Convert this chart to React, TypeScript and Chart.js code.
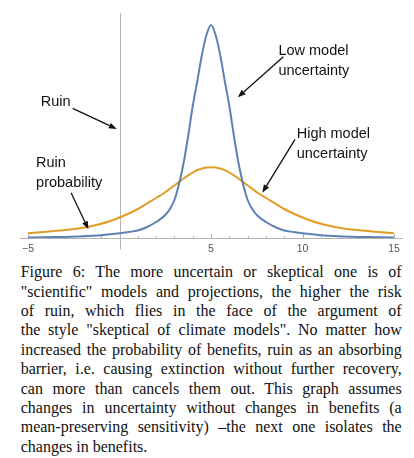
import React, { useRef, useEffect } from 'react';
import { Chart, registerables } from 'chart.js';

Chart.register(...registerables);

// x grid and the two densities
const xValues = [
  -5, -4, -3, -2, -1, 0, 0.5, 1, 1.5, 2, 2.5, 2.75, 3, 3.25, 3.5, 3.75, 4, 4.25, 4.5, 4.75,
  5,
  5.25, 5.5, 5.75, 6, 6.25, 6.5, 6.75, 7, 7.25, 7.5, 8, 8.5, 9, 9.5, 10, 11, 12, 13, 14, 15,
];
const lowUncertainty = [
  0.001, 0.0016, 0.0022, 0.0034, 0.0056, 0.0094, 0.012, 0.015, 0.022, 0.032, 0.046, 0.058, 0.076,
  0.108, 0.15, 0.204, 0.264, 0.314, 0.366, 0.406,
  0.426,
  0.406, 0.366, 0.314, 0.264, 0.204, 0.15, 0.108, 0.076, 0.058, 0.046, 0.032, 0.022, 0.015, 0.012,
  0.0094, 0.0056, 0.0034, 0.0022, 0.0016, 0.001,
];
const highUncertainty = [
  0.0094, 0.0124, 0.016, 0.0206, 0.0284, 0.041, 0.049, 0.058, 0.069, 0.08, 0.0916, 0.0984, 0.105,
  0.1124, 0.119, 0.1254, 0.131, 0.1356, 0.139, 0.141,
  0.1416,
  0.141, 0.139, 0.1356, 0.131, 0.1254, 0.119, 0.1124, 0.105, 0.0984, 0.0916, 0.08, 0.069, 0.058,
  0.049, 0.041, 0.0284, 0.0206, 0.016, 0.0124, 0.0094,
];

const majorTicks = [-5, 5, 10, 15];
const tickLabels = ['\u22125', '5', '10', '15'];
const minorTicks = [-4, -3, -2, -1, 1, 2, 3, 4, 6, 7, 8, 9, 11, 12, 13, 14];
const ruinLevel = 0;

// annotation text (left x, baseline y) and arrows, in data units
const labelLines = [
  { text: 'Low model', x: 8.68, y: 0.366 },
  { text: 'uncertainty', x: 8.68, y: 0.326 },
  { text: 'Ruin', x: -4.31, y: 0.264 },
  { text: 'High model', x: 9.68, y: 0.1994 },
  { text: 'uncertainty', x: 9.68, y: 0.1594 },
  { text: 'Ruin', x: -4.56, y: 0.1426 },
  { text: 'probability', x: -4.56, y: 0.1026 },
];
const arrows = [
  { from: [8.95, 0.3626], to: [6.46, 0.2814] },
  { from: [-2.56, 0.2594], to: [-0.15, 0.218] },
  { from: [9.59, 0.1974], to: [7.8, 0.0906] },
  { from: [-2.65, 0.0906], to: [-1.7, 0.0174] },
];

const captionLines = [
  'Figure 6: The more uncertain or skeptical one is of',
  '"scientific" models and projections, the higher the risk',
  'of ruin, which flies in the face of the argument of',
  'the style "skeptical of climate models". No matter how',
  'increased the probability of benefits, ruin as an absorbing',
  'barrier, i.e. causing extinction without further recovery,',
  'can more than cancels them out. This graph assumes',
  'changes in uncertainty without changes in benefits (a',
  'mean-preserving sensitivity) \u2013the next one isolates the',
  'changes in benefits.',
];

const decorPlugin = {
  id: 'decor',
  beforeDatasetsDraw(chart: any) {
    const { ctx, chartArea, scales } = chart;
    const x = scales.x;
    const y = scales.y;
    const y0 = Math.round(y.getPixelForValue(0)) + 0.5;
    ctx.save();
    ctx.strokeStyle = '#b4b4b4';
    ctx.lineWidth = 1;
    ctx.beginPath();
    ctx.moveTo(chartArea.left, y0);
    ctx.lineTo(chartArea.right, y0);
    majorTicks.forEach((v) => {
      const px = Math.round(x.getPixelForValue(v)) + 0.5;
      ctx.moveTo(px, y0);
      ctx.lineTo(px, y0 - 4.5);
    });
    minorTicks.forEach((v) => {
      const px = Math.round(x.getPixelForValue(v)) + 0.5;
      ctx.moveTo(px, y0);
      ctx.lineTo(px, y0 - 2.5);
    });
    const xr = Math.round(x.getPixelForValue(ruinLevel)) + 0.5;
    ctx.moveTo(xr, chartArea.top);
    ctx.lineTo(xr, y0 + 11);
    ctx.stroke();

    ctx.fillStyle = '#555';
    ctx.font = '10.5px "Liberation Sans", Arial, sans-serif';
    ctx.textAlign = 'center';
    ctx.textBaseline = 'alphabetic';
    majorTicks.forEach((v, i) => {
      ctx.fillText(tickLabels[i], x.getPixelForValue(v), y0 + 13.5);
    });
    ctx.restore();
  },
  afterDatasetsDraw(chart: any) {
    const { ctx, scales } = chart;
    const x = scales.x;
    const y = scales.y;
    ctx.save();
    ctx.fillStyle = '#111';
    ctx.font = '14.5px "Liberation Sans", Arial, sans-serif';
    ctx.textAlign = 'left';
    ctx.textBaseline = 'alphabetic';
    labelLines.forEach((l) => {
      ctx.fillText(l.text, x.getPixelForValue(l.x), y.getPixelForValue(l.y));
    });

    ctx.strokeStyle = '#111';
    ctx.lineWidth = 1.3;
    arrows.forEach((a) => {
      const x1 = x.getPixelForValue(a.from[0]);
      const y1 = y.getPixelForValue(a.from[1]);
      const x2 = x.getPixelForValue(a.to[0]);
      const y2 = y.getPixelForValue(a.to[1]);
      const ang = Math.atan2(y2 - y1, x2 - x1);
      const head = 8;
      const half = 3;
      const bx = x2 - head * Math.cos(ang);
      const by = y2 - head * Math.sin(ang);
      ctx.beginPath();
      ctx.moveTo(x1, y1);
      ctx.lineTo(bx, by);
      ctx.stroke();
      ctx.beginPath();
      ctx.moveTo(x2, y2);
      ctx.lineTo(bx + half * Math.sin(ang), by - half * Math.cos(ang));
      ctx.lineTo(bx - half * Math.sin(ang), by + half * Math.cos(ang));
      ctx.closePath();
      ctx.fill();
    });
    ctx.restore();
  },
};

const RuinChart: React.FC = () => {
  const canvasRef = useRef<HTMLCanvasElement>(null);
  const chartRef = useRef<Chart | null>(null);

  useEffect(() => {
    if (!canvasRef.current) return;
    if (chartRef.current) chartRef.current.destroy();

    chartRef.current = new Chart(canvasRef.current, {
      type: 'line',
      data: {
        datasets: [
          {
            label: 'Low model uncertainty',
            data: xValues.map((v, i) => ({ x: v, y: lowUncertainty[i] })),
            borderColor: '#5E81B5',
            borderWidth: 2,
            pointRadius: 0,
            cubicInterpolationMode: 'monotone',
            fill: false,
          },
          {
            label: 'High model uncertainty',
            data: xValues.map((v, i) => ({ x: v, y: highUncertainty[i] })),
            borderColor: '#E19C24',
            borderWidth: 2,
            pointRadius: 0,
            cubicInterpolationMode: 'monotone',
            fill: false,
          },
        ],
      },
      options: {
        animation: false,
        responsive: true,
        maintainAspectRatio: false,
        layout: { padding: { left: 19.8, right: 10.8, top: 13, bottom: 24 } },
        plugins: {
          legend: { display: false },
          tooltip: { enabled: false },
        },
        scales: {
          x: { type: 'linear', min: -5.45, max: 15.5, display: false },
          y: { type: 'linear', min: 0, max: 0.45, display: false },
        },
      },
      plugins: [decorPlugin],
    });

    return () => {
      chartRef.current?.destroy();
      chartRef.current = null;
    };
  }, []);

  return <canvas ref={canvasRef} />;
};

const App: React.FC = () => {
  return (
    <div
      style={{
        position: 'fixed',
        left: 0,
        top: 0,
        width: 414,
        height: 458,
        background: '#fff',
        overflow: 'hidden',
      }}
    >
      <div style={{ position: 'absolute', left: 0, top: 0, width: 414, height: 262 }}>
        <RuinChart />
      </div>
      <div
        style={{
          position: 'absolute',
          left: 20.7,
          top: 262.2,
          width: 381,
          fontFamily: '"Liberation Serif", "Times New Roman", serif',
          fontSize: 16,
          lineHeight: '19.4px',
          color: '#111',
        }}
      >
        {captionLines.map((line, i) => (
          <div
            key={i}
            style={{
              textAlign: i === captionLines.length - 1 ? 'left' : 'justify',
              textAlignLast: i === captionLines.length - 1 ? 'left' : 'justify',
              whiteSpace: 'nowrap',
            }}
          >
            {line}
          </div>
        ))}
      </div>
    </div>
  );
};

export default App;
